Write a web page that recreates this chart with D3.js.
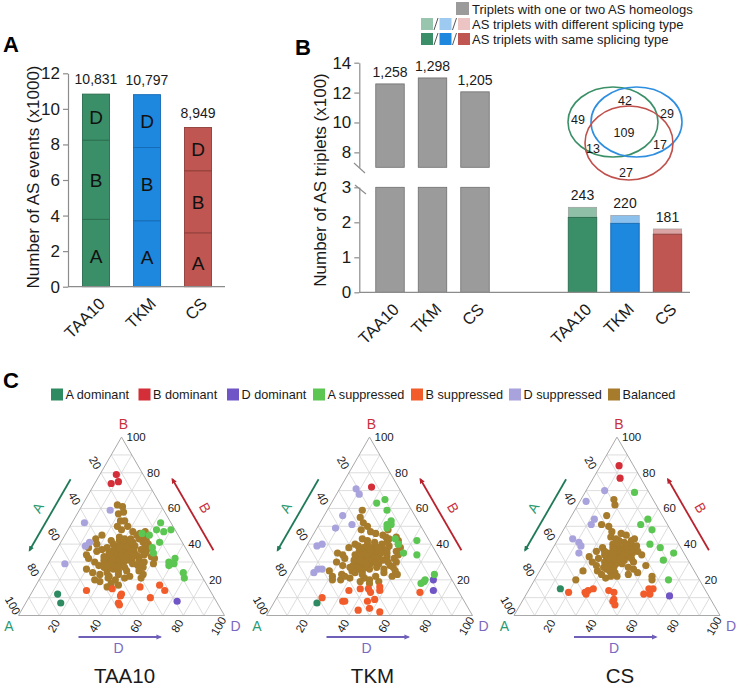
<!DOCTYPE html>
<html><head><meta charset="utf-8">
<script src="https://cdn.jsdelivr.net/npm/d3@7/dist/d3.min.js"></script>
<style>
body{margin:0;background:#fff;}
svg{font-family:"Liberation Sans",Arial,Helvetica,sans-serif;}
</style></head><body>
<svg id="c" width="742" height="689"></svg>
<script>
// ================= DATA =================
const genomes = ["TAA10", "TKM", "CS"];
const subgenomes = ["A", "B", "D"];
// Panel A: number of AS events (x1000), stacked by subgenome
const eventsA = [3.79, 3.71, 3.03];
const eventsB = [4.45, 4.12, 3.49];
const eventsD = [2.59, 2.97, 2.43];
const eventsTotalLabels = ["10,831", "10,797", "8,949"];
const yTicksA = [0, 2, 4, 6, 8, 10, 12];
// Panel B: AS triplets (x100)
const tripletsPartial = [12.58, 12.98, 12.05];
const tripletsPartialLabels = ["1,258", "1,298", "1,205"];
const tripletsSame = [2.14, 1.97, 1.66];
const tripletsDiff = [0.29, 0.23, 0.15];
const tripletsAllLabels = ["243", "220", "181"];
const yTicksBLow = [0, 1, 2, 3];
const yTicksBHigh = [8, 10, 12, 14];
const legendBLabels = ["Triplets with one or two AS homeologs", "AS triplets with different splicing type", "AS triplets with same splicing type"];
// Venn counts: TAA10 only, TAA10&TKM, TKM only, all, TAA10&CS, TKM&CS, CS only
const vennCounts = ["49", "42", "29", "109", "13", "17", "27"];
// Panel C: ternary plots, each point = [B %, D %] (A % = 100 - B - D)
const categoriesC = ["A dominant", "B dominant", "D dominant", "A suppressed", "B suppressed", "D suppressed", "Balanced"];
const ternTicks = [20, 40, 60, 80, 100];

const taaAdom = [[12,13],[7,17]];
const taaBdom = [[79,8],[75,11],[74,8]];
const taaDdom = [[8,73]];
const taaAsup = [[52,43],[48,43],[47,47],[48,50],[46,37],[45,41],[41,48],[38,46],[35,48],[32,60],[30,58],[29,61],[28,59],[24,68],[21,70]];
const taaBsup = [[14,26],[15,38],[12,44],[11,44],[7,45],[6,46],[16,51],[17,60],[14,64],[10,59]];
const taaDsup = [[59,15],[52,6],[41,14],[39,13],[29,8]];
const taaBal = [[62,17],[61,20],[57,20],[58,22],[53,23],[53,25],[50,23],[50,28],[47,32],[45,35],[46,36],[48,26],[44,27],[43,30],[42,24],
 [40,18],[38,15],[36,20],[32,18],[30,22],[24,24],[26,20],[28,25],[34,16],[37,22],[43,16],[45,18],
 [42,28],[41,31],[40,34],[40,26],[39,29],[39,37],[38,24],[38,32],[38,35],[37,28],[37,30],[36,33],[36,26],[36,38],[35,29],[35,31],[35,35],[34,27],[34,33],[34,40],[33,25],[33,30],[33,36],[32,28],[32,32],[32,38],[31,26],[31,30],[31,34],[30,29],[30,36],[30,40],[29,27],[29,32],[28,30],[28,35],[27,28],[27,38],[26,33],[26,30],[43,33],[44,38],[41,40],[39,42],[37,41],[36,44],[34,44],[33,42],[31,43],[29,41],[28,44],[25,36],[24,31],[23,28],[22,33],[23,37],[21,41],[22,43],[20,37],[25,40],
 [35,44],[33,48],[32,50],[29,51],[27,47],[30,46],[25,46],[23,49],[21,49],[38,45],[40,43],[42,41],[45,40],[43,37],[47,38],
 [19,30],[18,36],[20,27],[21,33],[17,40],[16,35],
 [37,33],[36,31],[35,33],[34,30],[33,33],[33,28],[32,35],[31,32],[30,33],[29,30],[35,27],[38,30],[40,31],[36,35],[34,36],[32,30],[30,31],[28,33],[27,35],[31,37],[33,39],[35,38],[37,36],[39,33],[41,35],[42,30]];

const tkmAdom = [[7,21]];
const tkmBdom = [[72,15]];
const tkmDdom = [[20,71],[14,74]];
const tkmAsup = [[63,22],[65,25],[59,29],[51,33],[51,35],[53,34],[49,34],[43,41],[40,44],[35,49],[42,52],[34,56],[23,70],[20,67],[19,67],[18,66]];
const tkmBsup = [[10,22],[8,33],[8,34],[14,33],[15,38],[15,42],[13,44],[14,48],[16,47],[8,45],[9,48],[3,43],[4,48],[2,54],[13,68]];
const tkmDsup = [[71,8],[68,11],[56,9],[51,16],[49,9],[39,5],[40,7],[24,11],[26,12],[26,14]];
const tkmBal = [[59,17],[55,18],[52,21],[50,24],[48,22],[47,27],[46,30],[45,34],[44,36],[48,35],[43,25],
 [34,20],[32,22],[30,19],[28,23],[25,18],[22,21],[20,22],[20,26],[23,25],[27,27],[35,17],[38,21],[40,23],
 [42,28],[41,32],[40,36],[40,29],[39,25],[39,33],[38,28],[38,31],[38,37],[37,30],[37,34],[36,27],[36,32],[36,38],[35,29],[35,33],[35,36],[34,26],[34,31],[34,35],[33,28],[33,33],[33,38],[32,30],[32,35],[31,27],[31,32],[31,37],[30,29],[30,34],[29,31],[29,36],[28,28],[28,33],[27,30],[27,35],[26,32],[26,37],[25,29],[25,34],[24,31],[23,35],[37,40],[35,41],[33,42],[31,41],[29,40],[27,40],[39,40],[41,38],[43,38],[44,41],[42,43],
 [40,44],[38,46],[36,45],[34,47],[32,46],[30,48],[28,46],[27,48],[26,44],[24,45],[22,50],[23,52],[25,50],[30,44],
 [21,37],[19,36],[18,41],[20,40],[22,42],[19,45],[21,30],[22,27],
 [36,34],[35,31],[34,33],[33,31],[33,35],[32,33],[31,35],[30,32],[34,29],[36,36],[32,37],[38,35],[29,34],[31,30],[37,32],[35,38],[30,38]];

const csAdom = [[15,15]];
const csBdom = [[84,9],[77,13]];
const csDdom = [[11,70]];
const csAsup = [[69,24],[54,38],[51,36],[48,43],[40,46],[38,52],[35,60],[31,57],[20,65]];
const csBsup = [[13,20],[13,28],[14,29],[12,29],[15,31],[14,39],[13,42],[9,44],[8,44],[6,46],[12,57],[15,58],[15,60],[12,60]];
const csDsup = [[70,9],[64,3],[54,12],[51,12],[43,7],[41,11],[39,13],[35,14]];
const csBal = [[65,16],[62,18],[56,17],[51,17],[50,21],[46,29],[47,24],[44,25],[45,32],[43,28],
 [25,21],[20,20],[28,26],[30,23],[33,20],[36,22],[38,24],[32,25],
 [42,30],[41,33],[40,28],[40,36],[39,31],[38,34],[38,29],[37,32],[37,36],[36,30],[36,34],[35,28],[35,32],[35,37],[34,30],[34,34],[33,31],[33,36],[32,29],[32,33],[31,31],[31,35],[30,33],[30,29],[29,35],[29,31],[28,33],[27,30],[27,35],[26,32],[25,34],[34,27],[36,26],[39,38],[37,39],[35,40],[33,39],[31,38],[29,38],[42,36],
 [43,37],[39,40],[34,45],[28,50],[22,56],[20,57],[24,48],[26,45],[30,43],[32,41],[36,42],[27,42],
 [21,34],[22,39],[23,44],[24,37],[23,31],[25,28],[22,36],
 [34,32],[33,33],[32,31],[35,34],[36,32],[31,33],[33,35],[34,36],[32,36],[30,35],[37,30],[35,30]];

// ================= STYLE =================
const mainFill = ["#3a8f68", "#1e87de", "#bf5651"];
const mainStroke = ["#2a6c4d", "#166bb5", "#8f3d39"];
const lightFill = ["#8fc0a7", "#8dc1ed", "#dba4a4"];
const catColors = ["#2e8a60", "#d42e38", "#7055c6", "#5cc652", "#f25b2a", "#a8a2dd", "#a67b2c"];
const axisColor = "#8c8c8c";
const txt = "#1a1a1a";

const svg = d3.select("#c");
const defs = svg.append("defs");
function marker(id, color) {
  defs.append("marker").attr("id", id).attr("viewBox", "0 0 10 10")
    .attr("refX", 7).attr("refY", 5).attr("markerWidth", 3.2).attr("markerHeight", 3.2)
    .attr("orient", "auto").append("path").attr("d", "M0,0.5L10,5L0,9.5Z").attr("fill", color);
}
marker("arrA", "#1f7a58"); marker("arrB", "#b8232e"); marker("arrD", "#6f5fb8");

function styleAxis(g, fs) {
  g.select(".domain").attr("stroke", axisColor).attr("stroke-width", 1.2);
  g.selectAll(".tick line").attr("stroke", axisColor).attr("stroke-width", 1.2);
  g.selectAll(".tick text").attr("fill", txt).attr("font-size", fs).attr("font-family", "Liberation Sans, Arial, sans-serif");
}
const fmtInt = d3.format("d");

// ================= PANEL A =================
svg.append("text").attr("x", 3).attr("y", 52).attr("font-size", 22).attr("font-weight", "bold").attr("fill", "#000").text("A");
const gA = svg.append("g");
const xA = d3.scaleBand().domain(genomes).range([70.5, 223.5]).paddingInner(0.47).paddingOuter(0.235);
const yA = d3.scaleLinear().domain([0, 12]).range([286.7, 73.3]);
const tableA = genomes.map((g, i) => ({ genome: g, A: eventsA[i], B: eventsB[i], D: eventsD[i] }));
const stackA = d3.stack().keys(subgenomes)(tableA);
stackA.forEach(layer => {
  layer.forEach((d, i) => {
    gA.append("rect").attr("x", xA(genomes[i])).attr("width", xA.bandwidth())
      .attr("y", yA(d[1])).attr("height", yA(d[0]) - yA(d[1]))
      .attr("fill", mainFill[i]).attr("stroke", mainStroke[i]).attr("stroke-width", 0.9);
    gA.append("text").attr("x", xA(genomes[i]) + xA.bandwidth() / 2).attr("y", (yA(d[0]) + yA(d[1])) / 2 + (layer.key === "A" ? 3 : 0))
      .attr("dy", "0.36em").attr("text-anchor", "middle").attr("font-size", 19).attr("fill", "#111").text(layer.key);
  });
});
genomes.forEach((g, i) => {
  const tot = eventsA[i] + eventsB[i] + eventsD[i];
  gA.append("text").attr("x", xA(g) + xA.bandwidth() / 2).attr("y", yA(tot) - 10)
    .attr("text-anchor", "middle").attr("font-size", 14).attr("fill", txt).text(eventsTotalLabels[i]);
});
const yAxisA = gA.append("g").attr("transform", "translate(68,0)")
  .call(d3.axisLeft(yA).tickValues(yTicksA).tickFormat(fmtInt).tickSize(5).tickSizeOuter(0).tickPadding(3));
styleAxis(yAxisA, 17);
gA.append("line").attr("x1", 68).attr("x2", 225).attr("y1", 286.7).attr("y2", 286.7).attr("stroke", axisColor).attr("stroke-width", 1.2);
const xAxisA = gA.append("g").attr("transform", "translate(0,286.7)").call(d3.axisBottom(xA).tickSize(0));
xAxisA.select(".domain").remove();
xAxisA.selectAll(".tick text").attr("y", 0).attr("dy", "0.35em").attr("text-anchor", "end")
  .attr("transform", "translate(6,14) rotate(-45)").attr("font-size", 16.5).attr("fill", txt).attr("font-family", "Liberation Sans, Arial, sans-serif");
gA.append("text").attr("transform", "translate(33,177) rotate(-90)").attr("text-anchor", "middle")
  .attr("dy", "0.35em").attr("font-size", 17).attr("fill", txt).text("Number of AS events (x1000)");

// ================= PANEL B =================
svg.append("text").attr("x", 295).attr("y", 55).attr("font-size", 22).attr("font-weight", "bold").attr("fill", "#000").text("B");
const gB = svg.append("g");
const yLow = d3.scaleLinear().domain([0, 3]).range([292.3, 187.3]);
const yHigh = d3.scaleLinear().domain([7, 14]).range([167.3, 62.7]);
const xBL = d3.scaleBand().domain(genomes).range([368.75, 496.25]).paddingInner(0.33).paddingOuter(0.165);
const xBR = d3.scaleBand().domain(genomes).range([561.25, 688.75]).paddingInner(0.33).paddingOuter(0.165);
genomes.forEach((g, i) => {
  gB.append("rect").attr("x", xBL(g)).attr("width", xBL.bandwidth()).attr("y", yLow(3)).attr("height", yLow(0) - yLow(3))
    .attr("fill", "#9b9b9b").attr("stroke", "#6e6e6e").attr("stroke-width", 0.8);
  gB.append("rect").attr("x", xBL(g)).attr("width", xBL.bandwidth()).attr("y", yHigh(tripletsPartial[i])).attr("height", yHigh(7) - yHigh(tripletsPartial[i]))
    .attr("fill", "#9b9b9b").attr("stroke", "#6e6e6e").attr("stroke-width", 0.8);
  gB.append("text").attr("x", xBL(g) + xBL.bandwidth() / 2).attr("y", yHigh(tripletsPartial[i]) - 7)
    .attr("text-anchor", "middle").attr("font-size", 14).attr("fill", txt).text(tripletsPartialLabels[i]);
  const tot = tripletsSame[i] + tripletsDiff[i];
  gB.append("rect").attr("x", xBR(g)).attr("width", xBR.bandwidth()).attr("y", yLow(tot)).attr("height", yLow(tripletsSame[i]) - yLow(tot))
    .attr("fill", lightFill[i]).attr("stroke", "#9a9a9a").attr("stroke-width", 0.6);
  gB.append("rect").attr("x", xBR(g)).attr("width", xBR.bandwidth()).attr("y", yLow(tripletsSame[i])).attr("height", yLow(0) - yLow(tripletsSame[i]))
    .attr("fill", mainFill[i]).attr("stroke", mainStroke[i]).attr("stroke-width", 0.9);
  gB.append("text").attr("x", xBR(g) + xBR.bandwidth() / 2).attr("y", yLow(tot) - 7)
    .attr("text-anchor", "middle").attr("font-size", 14).attr("fill", txt).text(tripletsAllLabels[i]);
});
const yAxBL = gB.append("g").attr("transform", "translate(359.3,0)")
  .call(d3.axisLeft(yLow).tickValues(yTicksBLow).tickFormat(fmtInt).tickSize(5).tickSizeOuter(0).tickPadding(3));
styleAxis(yAxBL, 17);
const yAxBH = gB.append("g").attr("transform", "translate(359.3,0)")
  .call(d3.axisLeft(yHigh).tickValues(yTicksBHigh).tickFormat(fmtInt).tickSize(5).tickSizeOuter(0).tickPadding(3));
styleAxis(yAxBH, 17);
gB.append("line").attr("x1", 354).attr("y1", 163).attr("x2", 365).attr("y2", 173).attr("stroke", axisColor).attr("stroke-width", 1.1);
gB.append("line").attr("x1", 355).attr("y1", 185).attr("x2", 366).attr("y2", 194).attr("stroke", axisColor).attr("stroke-width", 1.1);
gB.append("line").attr("x1", 359.3).attr("x2", 690).attr("y1", 292.3).attr("y2", 292.3).attr("stroke", axisColor).attr("stroke-width", 1.2);
[xBL, xBR].forEach(sc => {
  const ax = gB.append("g").attr("transform", "translate(0,292.3)").call(d3.axisBottom(sc).tickSize(0));
  ax.select(".domain").remove();
  ax.selectAll(".tick text").attr("y", 0).attr("dy", "0.35em").attr("text-anchor", "end")
    .attr("transform", "translate(6,14) rotate(-45)").attr("font-size", 16.5).attr("fill", txt).attr("font-family", "Liberation Sans, Arial, sans-serif");
});
gB.append("text").attr("transform", "translate(320,180) rotate(-90)").attr("text-anchor", "middle")
  .attr("dy", "0.35em").attr("font-size", 17).attr("fill", txt).text("Number of AS triplets (x100)");

// legend B
const lg = svg.append("g");
lg.append("rect").attr("x", 456).attr("y", 2).attr("width", 13).attr("height", 13).attr("fill", "#9b9b9b");
const legLight = ["#97c5ad", "#9ccaf0", "#ecc4c4"];
[0, 1, 2].forEach(i => {
  lg.append("rect").attr("x", 421 + i * 18.5).attr("y", 18).attr("width", 12).attr("height", 12).attr("fill", legLight[i]);
  lg.append("rect").attr("x", 421 + i * 18.5).attr("y", 33).attr("width", 12).attr("height", 12).attr("fill", mainFill[i]);
  if (i < 2) {
    [18, 33].forEach(yy => lg.append("line").attr("x1", 434 + i * 18.5).attr("y1", yy + 12).attr("x2", 438 + i * 18.5).attr("y2", yy)
      .attr("stroke", "#444").attr("stroke-width", 0.9));
  }
});
legendBLabels.forEach((t, i) => {
  lg.append("text").attr("x", 472).attr("y", 13.5 + i * 15).attr("font-size", 13).attr("fill", txt).text(t);
});

// Venn
const gV = svg.append("g");
const vennEllipses = [
  { cx: 613, cy: 122, rx: 45, ry: 35, c: "#3b9068" },
  { cx: 636.5, cy: 122, rx: 45.5, ry: 35, c: "#2e8ee0" },
  { cx: 629, cy: 143, rx: 44, ry: 37, c: "#c0504c" }
];
vennEllipses.forEach(e => gV.append("ellipse").attr("cx", e.cx).attr("cy", e.cy).attr("rx", e.rx).attr("ry", e.ry)
  .attr("fill", "none").attr("stroke", e.c).attr("stroke-width", 1.6));
const vennPos = [[578, 119], [625, 100], [667, 113], [624, 132], [593, 148], [660, 144], [626, 172]];
vennCounts.forEach((t, i) => gV.append("text").attr("x", vennPos[i][0]).attr("y", vennPos[i][1]).attr("dy", "0.36em")
  .attr("text-anchor", "middle").attr("font-size", 12.5).attr("fill", txt).text(t));

// ================= PANEL C =================
svg.append("text").attr("x", 3).attr("y", 388).attr("font-size", 22).attr("font-weight", "bold").attr("fill", "#000").text("C");
const legC = svg.append("g");
const legCx = [51, 138.5, 227, 313, 411, 509, 608];
categoriesC.forEach((c, i) => {
  legC.append("rect").attr("x", legCx[i]).attr("y", 388.5).attr("width", 12).attr("height", 12).attr("fill", catColors[i]);
  legC.append("text").attr("x", legCx[i] + 14.5).attr("y", 399).attr("font-size", 12.7).attr("fill", txt).text(c);
});

function drawTernary(ox, title, groups) {
  const s = 206, by = 615.5, h = s * Math.sqrt(3) / 2;
  const xs = d3.scaleLinear().domain([0, 100]).range([ox, ox + s]);
  const ys = d3.scaleLinear().domain([0, 100]).range([by, by - h]);
  const P = (B, D) => [xs(D + B / 2), ys(B)];
  const g = svg.append("g");
  const line = (p, q, col, w) => g.append("line").attr("x1", p[0]).attr("y1", p[1]).attr("x2", q[0]).attr("y2", q[1])
    .attr("stroke", col).attr("stroke-width", w);
  d3.range(10, 100, 10).forEach(k => {
    line(P(k, 0), P(k, 100 - k), "#d4d4d4", 0.8);
    line(P(0, k), P(100 - k, k), "#d4d4d4", 0.8);
    line(P(0, 100 - k), P(100 - k, 0), "#d4d4d4", 0.8);
  });
  g.append("path").attr("d", d3.line()([P(0, 0), P(0, 100), P(100, 0)]) + "Z")
    .attr("fill", "none").attr("stroke", "#a9a9a9").attr("stroke-width", 1);
  // tick labels
  ternTicks.forEach(v => {
    const r = P(v, 100 - v);
    g.append("text").attr("x", r[0] + 5).attr("y", r[1] + 4).attr("font-size", 11.5).attr("fill", txt).text(v);
    const l = P(100 - v, 0);
    const lx = l[0] - 0.5 * 11.5, ly = l[1] - 0.866 * 11.5;
    g.append("text").attr("transform", `translate(${lx},${ly}) rotate(60)`).attr("text-anchor", "middle").attr("dy", "0.35em")
      .attr("font-size", 11.5).attr("fill", txt).text(v);
    const b = P(0, v);
    const bx = b[0] - 0.5 * 12, byy = b[1] + 0.866 * 12;
    g.append("text").attr("transform", `translate(${bx},${byy}) rotate(-60)`).attr("text-anchor", "middle").attr("dy", "0.35em")
      .attr("font-size", 11.5).attr("fill", txt).text(v);
  });
  // corner labels
  const apex = P(100, 0), cA = P(0, 0), cD = P(0, 100);
  g.append("text").attr("x", apex[0] + 2).attr("y", apex[1] - 8).attr("text-anchor", "middle").attr("font-size", 14).attr("fill", "#c9303b").text("B");
  g.append("text").attr("x", cA[0] - 9.5).attr("y", cA[1] + 15).attr("text-anchor", "middle").attr("font-size", 14).attr("fill", "#2a9a72").text("A");
  g.append("text").attr("x", cD[0] + 11).attr("y", cD[1] + 15).attr("text-anchor", "middle").attr("font-size", 14).attr("fill", "#7a68c0").text("D");
  // arrows
  const mL = P(50, 0), nL = [-0.866, -0.5], uL = [-0.5, 0.866];
  const cL = [mL[0] + 23 * nL[0], mL[1] + 23 * nL[1]];
  g.append("line").attr("x1", cL[0] - 41 * uL[0]).attr("y1", cL[1] - 41 * uL[1]).attr("x2", cL[0] + 41 * uL[0]).attr("y2", cL[1] + 41 * uL[1])
    .attr("stroke", "#1f7a58").attr("stroke-width", 1.8).attr("marker-end", "url(#arrA)");
  g.append("text").attr("transform", `translate(${mL[0] + 37 * nL[0]},${mL[1] + 37 * nL[1]}) rotate(-60)`).attr("text-anchor", "middle")
    .attr("dy", "0.35em").attr("font-size", 14).attr("fill", "#2a9a72").text("A");
  const mR = P(50, 50), nR = [0.866, -0.5], uR = [-0.5, -0.866];
  const cR = [mR[0] + 23 * nR[0], mR[1] + 23 * nR[1]];
  g.append("line").attr("x1", cR[0] - 41 * uR[0]).attr("y1", cR[1] - 41 * uR[1]).attr("x2", cR[0] + 41 * uR[0]).attr("y2", cR[1] + 41 * uR[1])
    .attr("stroke", "#b8232e").attr("stroke-width", 1.8).attr("marker-end", "url(#arrB)");
  g.append("text").attr("transform", `translate(${mR[0] + 37 * nR[0]},${mR[1] + 37 * nR[1]}) rotate(60)`).attr("text-anchor", "middle")
    .attr("dy", "0.35em").attr("font-size", 14).attr("fill", "#c9303b").text("B");
  const mB = P(0, 50);
  g.append("line").attr("x1", mB[0] - 43).attr("y1", by + 21.5).attr("x2", mB[0] + 39).attr("y2", by + 21.5)
    .attr("stroke", "#6f5fb8").attr("stroke-width", 1.8).attr("marker-end", "url(#arrD)");
  g.append("text").attr("x", mB[0] - 3).attr("y", by + 37).attr("text-anchor", "middle").attr("font-size", 14).attr("fill", "#7a68c0").text("D");
  // points: balanced first, then others on top
  const order = [6, 0, 1, 2, 3, 4, 5];
  order.forEach(ci => {
    groups[ci].forEach(pt => {
      const p = P(pt[0], pt[1]);
      g.append("circle").attr("cx", p[0]).attr("cy", p[1]).attr("r", 3.6).attr("fill", catColors[ci]);
    });
  });
  g.append("text").attr("x", ox + s / 2 + 3).attr("y", 683).attr("text-anchor", "middle").attr("font-size", 20.5).attr("fill", txt).text(title);
}
drawTernary(18.5, "TAA10", [taaAdom, taaBdom, taaDdom, taaAsup, taaBsup, taaDsup, taaBal]);
drawTernary(266.5, "TKM", [tkmAdom, tkmBdom, tkmDdom, tkmAsup, tkmBsup, tkmDsup, tkmBal]);
drawTernary(514, "CS", [csAdom, csBdom, csDdom, csAsup, csBsup, csDsup, csBal]);
</script>
</body></html>
